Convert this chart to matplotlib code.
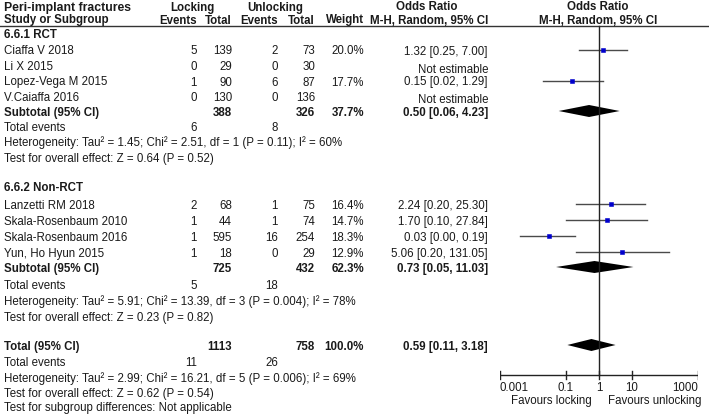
import matplotlib
matplotlib.use('Agg')
import matplotlib.pyplot as plt

plt.rcParams['font.family'] = ['Liberation Sans', 'DejaVu Sans']

# Dados do forest plot
rct_studies = ["Ciaffa V 2018", "Li X 2015", "Lopez-Vega M 2015", "V.Caiaffa 2016"]
rct_lock_events = [5, 0, 1, 0]
rct_lock_total = [139, 29, 90, 130]
rct_unlock_events = [2, 0, 6, 0]
rct_unlock_total = [73, 30, 87, 136]
rct_weight = [20.0, None, 17.7, None]
rct_or = [1.32, None, 0.15, None]
rct_low = [0.25, None, 0.02, None]
rct_high = [7.00, None, 1.29, None]

nrct_studies = ["Lanzetti RM 2018", "Skala-Rosenbaum 2010", "Skala-Rosenbaum 2016", "Yun, Ho Hyun 2015"]
nrct_lock_events = [2, 1, 1, 1]
nrct_lock_total = [68, 44, 595, 18]
nrct_unlock_events = [1, 1, 16, 0]
nrct_unlock_total = [75, 74, 254, 29]
nrct_weight = [16.4, 14.7, 18.3, 12.9]
nrct_or = [2.24, 1.70, 0.03, 5.06]
nrct_low = [0.20, 0.10, 0.004, 0.20]
nrct_high = [25.30, 27.84, 0.19, 131.05]

# subtotais: [total locking, total unlocking, peso, OR, low, high, eventos locking, eventos unlocking]
rct_sub = [388, 326, 37.7, 0.50, 0.06, 4.23, 6, 8]
nrct_sub = [725, 432, 62.3, 0.73, 0.05, 11.03, 5, 18]
overall = [1113, 758, 100.0, 0.59, 0.11, 3.18, 11, 26]

rct_het = "Heterogeneity: Tau\u00b2 = 1.45; Chi\u00b2 = 2.51, df = 1 (P = 0.11); I\u00b2 = 60%"
rct_test = "Test for overall effect: Z = 0.64 (P = 0.52)"
nrct_het = "Heterogeneity: Tau\u00b2 = 5.91; Chi\u00b2 = 13.39, df = 3 (P = 0.004); I\u00b2 = 78%"
nrct_test = "Test for overall effect: Z = 0.23 (P = 0.82)"
all_het = "Heterogeneity: Tau\u00b2 = 2.99; Chi\u00b2 = 16.21, df = 5 (P = 0.006); I\u00b2 = 69%"
all_test = "Test for overall effect: Z = 0.62 (P = 0.54)"
subgroup_test = "Test for subgroup differences: Not applicable"

ticks = [0.001, 0.1, 1, 10, 1000]
tick_labels = ["0.001", "0.1", "1", "10", "1000"]

FS = 8.3
TXT = '#1a1a1a'
DY = 1.5  # ajuste vertical do texto

# Colunas (px)
X_NAME, X_LEV, X_LTOT, X_UEV, X_UTOT, X_W, X_OR = 4, 197, 232, 278, 315, 364, 488

fig = plt.figure(figsize=(7.09, 4.15), dpi=100)
ax = fig.add_axes([0, 0, 1, 1])
ax.set_xlim(0, 709)
ax.set_ylim(415, 0)
ax.axis('off')

fx0, fx1 = 500, 698
axf = fig.add_axes([fx0 / 709, 0, (fx1 - fx0) / 709, 1])
axf.set_xscale('log')
axf.set_xlim(0.001, 1000)
axf.set_ylim(415, 0)
axf.axis('off')
axf.patch.set_alpha(0)


def txt(x, y, s, ha='left', bold=False, size=FS):
    ax.text(x, y + DY, s, ha=ha, va='center', fontsize=size, color=TXT,
            fontweight='bold' if bold else 'normal')


# Cabeçalho
txt(4, 6, "Peri-implant fractures", bold=True, size=8.8)
txt(170, 6, "Locking", bold=True)
txt(247, 6, "Unlocking", bold=True)
txt(427, 6, "Odds Ratio", ha='center', bold=True)
txt(598, 6, "Odds Ratio", ha='center', bold=True)
txt(4, 19, "Study or Subgroup", bold=True)
txt(X_LEV, 19, "Events", ha='right', bold=True)
txt(X_LTOT, 19, "Total", ha='right', bold=True)
txt(X_UEV, 19, "Events", ha='right', bold=True)
txt(X_UTOT, 19, "Total", ha='right', bold=True)
txt(X_W, 19, "Weight", ha='right', bold=True)
txt(X_OR, 19, "M-H, Random, 95% CI", ha='right', bold=True)
txt(598, 19, "M-H, Random, 95% CI", ha='center', bold=True)
ax.plot([0, 709], [26, 26], color='#333333', lw=1)


def study_rows(ys, names, le, lt, ue, ut, w, o, lo, hi):
    for i, y in enumerate(ys):
        txt(X_NAME, y, names[i])
        txt(X_LEV, y, str(le[i]), ha='right')
        txt(X_LTOT, y, str(lt[i]), ha='right')
        txt(X_UEV, y, str(ue[i]), ha='right')
        txt(X_UTOT, y, str(ut[i]), ha='right')
        if o[i] is None:
            txt(X_OR, y + 2.5, "Not estimable", ha='right')
            continue
        txt(X_W, y, f"{w[i]:.1f}%", ha='right')
        txt(X_OR, y, f"{o[i]:.2f} [{lo[i]:.2f}, {hi[i]:.2f}]", ha='right')
        axf.plot([lo[i], hi[i]], [y, y], color='#4a4a4a', lw=1)
        axf.plot(o[i], y, 's', color='#0000cc', mec='#0000cc', mew=0.4,
                 ms=0.8 * w[i] ** 0.5)


def summary_row(y, label, sub):
    txt(X_NAME, y, label, bold=True)
    txt(X_LTOT, y, str(sub[0]), ha='right', bold=True)
    txt(X_UTOT, y, str(sub[1]), ha='right', bold=True)
    txt(X_W, y, f"{sub[2]:.1f}%", ha='right', bold=True)
    txt(X_OR, y, f"{sub[3]:.2f} [{sub[4]:.2f}, {sub[5]:.2f}]", ha='right', bold=True)
    axf.fill([sub[4], sub[3], sub[5], sub[3]], [y, y - 6, y, y + 6],
             color='black', lw=0)


def events_row(y, sub):
    txt(X_NAME, y, "Total events")
    txt(X_LEV, y, str(sub[6]), ha='right')
    txt(X_UEV, y, str(sub[7]), ha='right')


# 6.6.1 RCT
txt(4, 34, "6.6.1 RCT", bold=True)
study_rows([50, 66, 81, 96], rct_studies, rct_lock_events, rct_lock_total,
           rct_unlock_events, rct_unlock_total, rct_weight, rct_or, rct_low, rct_high)
summary_row(111, "Subtotal (95% CI)", rct_sub)
events_row(126, rct_sub)
txt(X_NAME, 141, rct_het)
txt(X_NAME, 157, rct_test)

# 6.6.2 Non-RCT
txt(4, 186, "6.6.2 Non-RCT", bold=True)
study_rows([204, 220, 236, 252], nrct_studies, nrct_lock_events, nrct_lock_total,
           nrct_unlock_events, nrct_unlock_total, nrct_weight, nrct_or, nrct_low, nrct_high)
summary_row(267, "Subtotal (95% CI)", nrct_sub)
events_row(284, nrct_sub)
txt(X_NAME, 300, nrct_het)
txt(X_NAME, 316, nrct_test)

# Total
summary_row(345, "Total (95% CI)", overall)
events_row(361, overall)
txt(X_NAME, 377, all_het)
txt(X_NAME, 392, all_test)
txt(X_NAME, 406, subgroup_test)

# Linha de efeito nulo e eixo
axf.plot([1, 1], [26, 375], color='#222222', lw=1)
axf.plot([ticks[0], ticks[-1]], [375, 375], color='#222222', lw=1)
for i, t in enumerate(ticks):
    axf.plot([t, t], [371, 379], color='#222222', lw=1)
    ha = 'left' if i == 0 else ('right' if i == len(ticks) - 1 else 'center')
    axf.text(t, 388, tick_labels[i], ha=ha, va='center', fontsize=FS, color=TXT)
axf.text(0.6, 401, "Favours locking", ha='right', va='center', fontsize=FS, color=TXT)
axf.text(1.9, 401, "Favours unlocking", ha='left', va='center', fontsize=FS, color=TXT)

fig.savefig('out.png', dpi=100)
